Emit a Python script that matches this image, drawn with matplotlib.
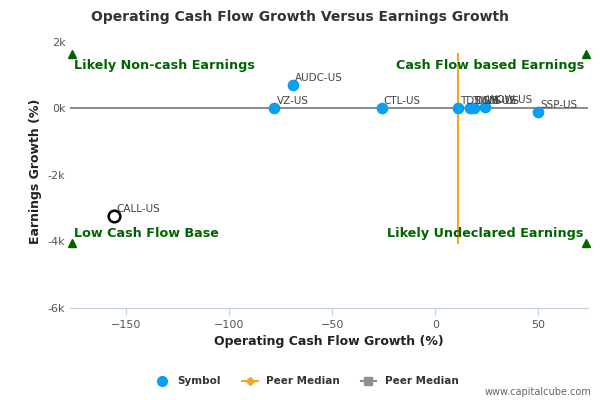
import matplotlib.pyplot as plt
from matplotlib.lines import Line2D

names = ["AUDC-US", "VZ-US", "CTL-US", "TDS-US", "TMUS-US", "USM-US", "WOW-US", "SSP-US"]
cash_growth = [-69, -78, -26, 11, 17, 18.5, 24, 50]
earn_growth = [700, 0, 0, 0, 0, 0, 50, -120]
hi_name = "CALL-US"
hi_x, hi_y = -156, -3230
peer_x = 11
peer_y = 0

blue = "#0a9ff0"
green = "#006400"

fig = plt.figure(figsize=(6, 4), dpi=100)
ax = fig.add_axes([0.117, 0.23, 0.863, 0.685])
xlo, xhi = -177, 74
ylo, yhi = -6000, 2000
ax.set_xlim(xlo, xhi)
ax.set_ylim(ylo, yhi + 240)

ax.plot([xlo, xhi], [peer_y, peer_y], color="#8a9099", lw=1.5, zorder=2)
ax.plot([peer_x, peer_x], [1650, -4050], color="#f5a623", lw=1.5, zorder=2)

ax.scatter(cash_growth, earn_growth, s=55, color=blue, zorder=4)
for n, x, y in zip(names, cash_growth, earn_growth):
    ax.text(x + 1, y + 120, n, fontsize=7.5, color="#444444", zorder=5)
ax.scatter([hi_x], [hi_y], s=70, facecolor="white", edgecolor="black", lw=1.8, zorder=5)
ax.text(hi_x + 1.5, hi_y + 120, hi_name, fontsize=7.5, color="#444444")

for tx, ty in [(xlo + 1, 1650), (xhi - 1, 1650), (xlo + 1, -4050), (xhi - 1, -4050)]:
    ax.plot(tx, ty, marker="^", color=green, ms=6, clip_on=False, zorder=6)
kw = dict(color=green, fontsize=9.2, fontweight="bold")
ax.text(xlo + 2, 1300, "Likely Non-cash Earnings", ha="left", va="center", **kw)
ax.text(xhi - 2, 1300, "Cash Flow based Earnings", ha="right", va="center", **kw)
ax.text(xlo + 2, -3760, "Low Cash Flow Base", ha="left", va="center", **kw)
ax.text(xhi - 2, -3760, "Likely Undeclared Earnings", ha="right", va="center", **kw)

ax.set_xticks([-150, -100, -50, 0, 50])
ax.set_yticks([-6000, -4000, -2000, 0, 2000])
ax.set_yticklabels(["-6k", "-4k", "-2k", "0k", "2k"])
ax.tick_params(labelsize=8, colors="#555555", length=0)
ax.tick_params(axis="x", length=5, color="#c0d0e0")
for s in ["top", "right", "left"]:
    ax.spines[s].set_visible(False)
ax.spines["bottom"].set_color("#c0d0e0")
ax.set_xlabel("Operating Cash Flow Growth (%)", fontsize=9, fontweight="bold", color="#222222")
ax.set_ylabel("Earnings Growth (%)", fontsize=9, fontweight="bold", color="#222222")
fig.suptitle("Operating Cash Flow Growth Versus Earnings Growth", x=0.5, y=0.975,
             fontsize=10, fontweight="bold", color="#333333")

handles = [
    Line2D([], [], marker="o", ls="", color=blue, ms=7),
    Line2D([], [], marker="D", color="#f5a623", ms=4, lw=1.5),
    Line2D([], [], marker="s", color="#8a9099", ms=6, lw=1.5),
]
fig.legend(handles, ["Symbol", "Peer Median", "Peer Median"], loc="center",
           bbox_to_anchor=(0.51, 0.047), ncol=3, frameon=False,
           prop={"size": 7.5, "weight": "bold"}, labelcolor="#333333", handlelength=1.5)
fig.text(0.985, 0.012, "www.capitalcube.com", ha="right", fontsize=7, color="#666666")

fig.savefig("out.png")
